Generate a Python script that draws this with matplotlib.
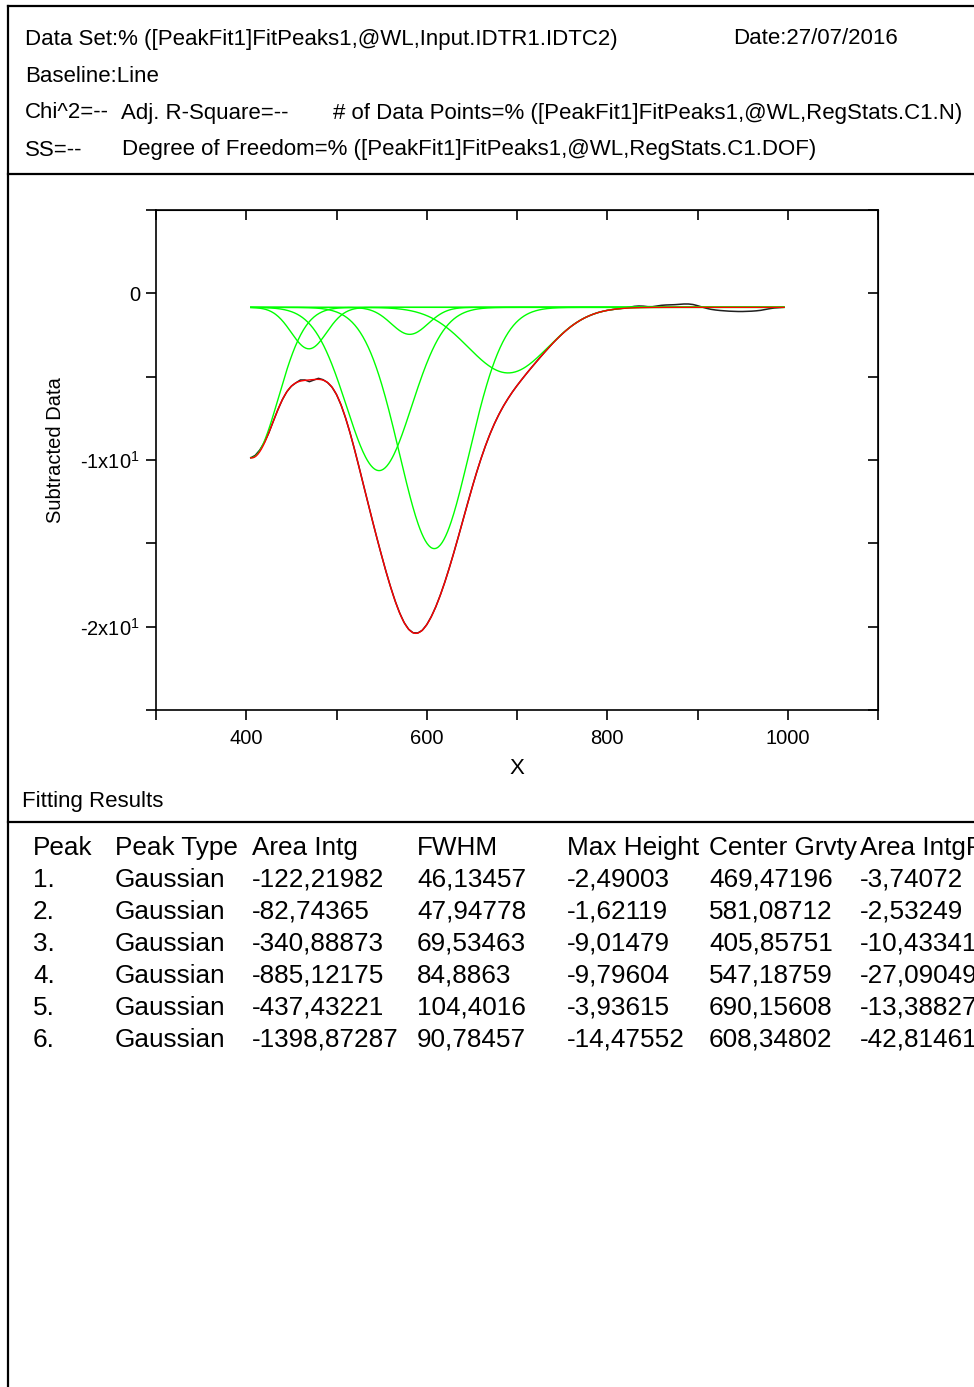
import matplotlib
matplotlib.use('Agg')
import matplotlib.pyplot as plt
from matplotlib.lines import Line2D
from matplotlib.ticker import MultipleLocator, FuncFormatter
import numpy as np

plt.rcParams['font.family'] = ['Liberation Sans', 'DejaVu Sans']
plt.rcParams['mathtext.fontset'] = 'custom'
plt.rcParams['mathtext.rm'] = 'Liberation Sans'
plt.rcParams['mathtext.default'] = 'regular'

# fit results, as listed in the report table
peak_no = ['1.', '2.', '3.', '4.', '5.', '6.']
peak_type = ['Gaussian'] * 6
area_intg = ['-122,21982', '-82,74365', '-340,88873', '-885,12175', '-437,43221', '-1398,87287']
fwhm = ['46,13457', '47,94778', '69,53463', '84,8863', '104,4016', '90,78457']
max_height = ['-2,49003', '-1,62119', '-9,01479', '-9,79604', '-3,93615', '-14,47552']
center = ['469,47196', '581,08712', '405,85751', '547,18759', '690,15608', '608,34802']
area_pct = ['-3,74072', '-2,53249', '-10,43341', '-27,09049', '-13,38827', '-42,81461']

baseline = -0.84
x_start, x_end = 405, 996

# subtracted data, every 5 units from 405 to 995
data_x = list(range(405, 1000, 5))
data_y = [
    -9.87, -9.72, -9.40, -8.95, -8.37, -7.67, -6.99, -6.38, -5.90, -5.57,
    -5.37, -5.20, -5.20, -5.30, -5.20, -5.10, -5.18, -5.35, -5.63, -6.07,
    -6.69, -7.47, -8.37, -9.37, -10.43, -11.52, -12.60, -13.68, -14.73, -15.74,
    -16.72, -17.63, -18.46, -19.18, -19.76, -20.16, -20.37, -20.38, -20.22, -19.88,
    -19.40, -18.81, -18.11, -17.33, -16.47, -15.56, -14.61, -13.63, -12.65, -11.70,
    -10.79, -9.94, -9.16, -8.45, -7.82, -7.26, -6.76, -6.32, -5.91, -5.54,
    -5.19, -4.85, -4.52, -4.20, -3.88, -3.57, -3.27, -2.97, -2.70, -2.44,
    -2.20, -1.98, -1.79, -1.62, -1.47, -1.35, -1.24, -1.15, -1.08, -1.02,
    -0.98, -0.94, -0.91, -0.87, -0.83, -0.78, -0.76, -0.77, -0.80, -0.80,
    -0.76, -0.72, -0.70, -0.69, -0.68, -0.66, -0.64, -0.64, -0.67, -0.74,
    -0.82, -0.90, -0.96, -1.00, -1.03, -1.05, -1.07, -1.08, -1.09, -1.09,
    -1.08, -1.07, -1.05, -1.02, -0.97, -0.92, -0.88, -0.86, -0.84,
]

W, H = 974, 1387


def num(s):
    return float(s.replace(',', '.'))


def gauss(x, h, xc, w):
    return h * np.exp(-4 * np.log(2) * ((x - xc) / w) ** 2)


def px(x, y):
    return x / W, 1 - y / H


fig = plt.figure(figsize=(W / 100, H / 100), dpi=100)

# report frame
for (x1, y1), (x2, y2) in [((8, 6), (8, H)), ((8, 6), (W, 6)),
                           ((8, 174), (W, 174)), ((8, 822), (W, 822))]:
    a, b = px(x1, y1)
    c, d = px(x2, y2)
    fig.add_artist(Line2D([a, c], [b, d], transform=fig.transFigure,
                          color='black', lw=1.6))

hdr = 16
header = [
    (25, 39, 'Data Set:% ([PeakFit1]FitPeaks1,@WL,Input.IDTR1.IDTC2)'),
    (733, 39, 'Date:27/07/2016'),
    (25, 76, 'Baseline:Line'),
    (25, 113, 'Chi^2=--'),
    (121, 113, 'Adj. R-Square=--'),
    (333, 113, '# of Data Points=% ([PeakFit1]FitPeaks1,@WL,RegStats.C1.N)'),
    (25, 150, 'SS=--'),
    (122, 150, 'Degree of Freedom=% ([PeakFit1]FitPeaks1,@WL,RegStats.C1.DOF)'),
]
for x, y, s in header:
    fig.text(*px(x, y), s, fontsize=hdr, ha='left', va='center')

# plot
ax = fig.add_axes([156 / W, 1 - 710 / H, 722 / W, 500 / H])
xx = np.linspace(x_start, x_end, 600)
total = np.full_like(xx, baseline)
comps = []
for h, xc, w in zip(max_height, center, fwhm):
    g = gauss(xx, num(h), num(xc), num(w))
    comps.append(g)
    total = total + g

ax.plot(data_x, data_y, color='#202020', lw=1.1)
for g in comps:
    ax.plot(xx, baseline + g, color='#00ff00', lw=1.0)
ax.plot(xx, total, color='red', lw=1.0)

ax.set_xlim(300, 1100)
ax.set_ylim(-25, 5)
ax.xaxis.set_major_locator(MultipleLocator(200))
ax.xaxis.set_minor_locator(MultipleLocator(100))
ax.yaxis.set_major_locator(MultipleLocator(10))
ax.yaxis.set_minor_locator(MultipleLocator(5))
ax.yaxis.set_major_formatter(FuncFormatter(
    lambda v, _: '0' if v == 0 else '%dx10$^{1}$' % round(v / 10)))
ax.tick_params(which='both', direction='out', length=7.5, width=1.2,
               top=False, right=False, labelsize=14.5)
ax.tick_params(axis='x', pad=6)
ax.tick_params(axis='y', pad=4)
for sp in ax.spines.values():
    sp.set_linewidth(1.2)

top = ax.secondary_xaxis('top')
top.xaxis.set_major_locator(MultipleLocator(200))
top.xaxis.set_minor_locator(MultipleLocator(100))
top.tick_params(which='both', direction='in', length=7, width=1.2, labeltop=False)
right = ax.secondary_yaxis('right')
right.yaxis.set_major_locator(MultipleLocator(10))
right.yaxis.set_minor_locator(MultipleLocator(5))
right.tick_params(which='both', direction='in', length=7, width=1.2, labelright=False)

fig.text(*px(56, 450), 'Subtracted Data', rotation=90, fontsize=14.5,
         ha='center', va='center')
fig.text(*px(517, 768), 'X', fontsize=16, ha='center', va='center')
fig.text(*px(22, 801), 'Fitting Results', fontsize=16, ha='left', va='center')

# results table
cols = [33, 115, 252, 417, 567, 709, 860]
heads = ['Peak', 'Peak Type', 'Area Intg', 'FWHM', 'Max Height', 'Center Grvty', 'Area IntgP']
tab = 18.8
for cx, s in zip(cols, heads):
    fig.text(*px(cx, 848), s, fontsize=tab, ha='left', va='center')
rows = zip(peak_no, peak_type, area_intg, fwhm, max_height, center, area_pct)
for i, row in enumerate(rows):
    for cx, s in zip(cols, row):
        fig.text(*px(cx, 880 + 32 * i), s, fontsize=tab, ha='left', va='center')

fig.savefig('out.png', dpi=100)
